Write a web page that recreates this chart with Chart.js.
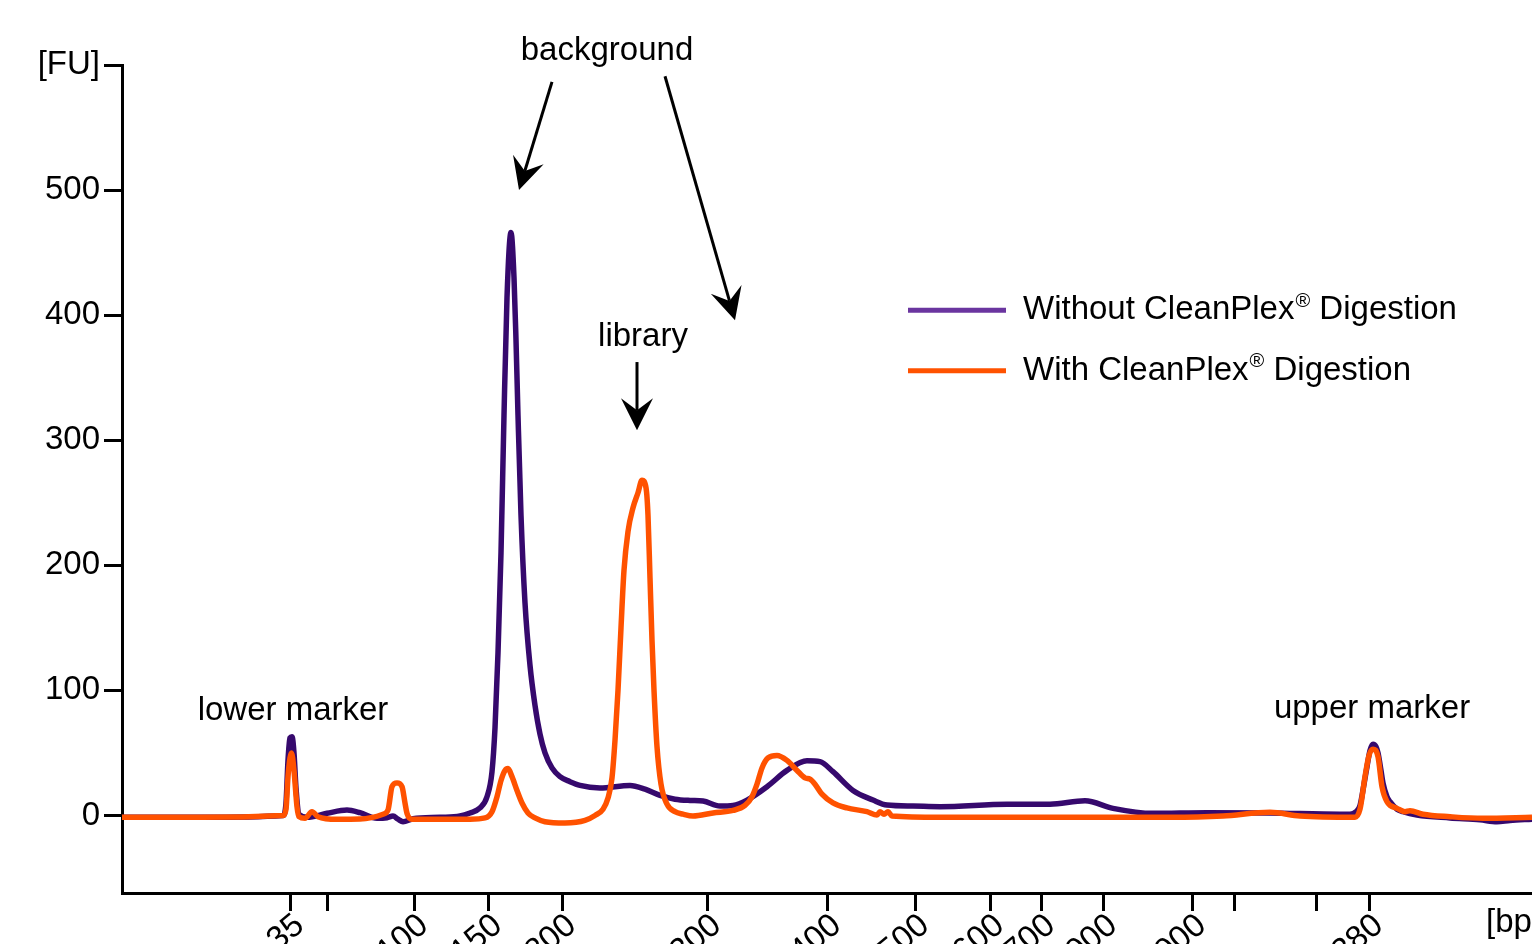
<!DOCTYPE html>
<html>
<head>
<meta charset="utf-8">
<script src="https://cdn.jsdelivr.net/npm/chart.js@4.4.1/dist/chart.umd.min.js"></script>
<style>
  body { margin: 0; background: #fff; overflow: hidden; }
  canvas { display: block; }
</style>
</head>
<body>
<canvas id="myChart" width="1532" height="944"></canvas>
<script>
// migration position (run units) and fluorescence [FU]
var withoutPos = [122, 200, 283, 286, 288, 290, 292, 294, 296, 299, 307, 327, 347, 360, 377, 387, 393, 398, 403, 413, 440, 460, 470, 480, 487, 492, 495, 498, 501, 504, 507, 511, 514, 516, 518, 521, 525, 530, 535, 540, 545, 552, 560, 570, 580, 600, 630, 645, 660, 675, 690, 703, 720, 733, 747, 767, 787, 807, 820, 833, 853, 873, 887, 913, 940, 1007, 1050, 1085, 1113, 1153, 1207, 1270, 1340, 1350, 1356, 1360, 1364, 1367, 1370, 1373, 1376, 1378, 1381, 1383, 1387, 1390, 1397, 1403, 1417, 1450, 1480, 1497, 1510, 1532];
var withoutFU = [-1.5, -1.5, 0, 10, 44, 62, 63, 50, 22, 1, -1.5, 1.7, 4.3, 2.2, -2.3, -1.8, -0.5, -3, -5, -2.6, -1.5, -0.5, 2, 6, 15, 35, 70, 130, 210, 320, 414, 466, 430, 380, 320, 240, 170, 120, 88, 65, 50, 38, 31, 27, 24, 22, 24, 21, 16, 13, 12, 11.5, 7.5, 8, 12.3, 23, 36, 43.7, 43, 35, 20, 12.3, 8.3, 7.5, 7, 8.9, 9, 11.7, 5.7, 1.7, 2.2, 2, 1, 1, 3, 8, 25, 39, 52, 57, 55, 50, 36, 26, 15, 11, 5, 3, 0.3, -2, -3.5, -5, -4, -3];

var withPos = [122, 200, 283, 286, 288, 290, 291.5, 294, 297, 299, 305, 312, 318, 337, 360, 383, 388, 392, 397, 402, 405, 407, 412, 470, 485, 492, 497, 501, 505, 508, 512, 517, 522, 528, 535, 545, 565, 585, 595, 603, 608, 612, 615, 618, 621, 624, 628, 633, 638, 642, 646, 648, 650, 652, 654, 657, 661, 667, 675, 683, 693, 713, 733, 745, 752, 757, 762, 768, 777, 787, 797, 805, 810, 815, 822, 833, 847, 867, 877, 880, 884, 888, 892, 940, 1170, 1223, 1270, 1300, 1355, 1360, 1365, 1369, 1373, 1378, 1382, 1387, 1397, 1405, 1410, 1423, 1450, 1483, 1532];
var withFU = [-1.5, -1.5, 0, 5, 31, 46, 50, 36, 7, -1, -2.3, 3, -1, -3.1, -2.9, 1, 4.3, 23, 26, 23, 10, 1.7, -3, -3, -2, 3, 15, 28, 36, 37.5, 31, 20, 10, 2, -2, -5, -6, -4, 0, 5, 14, 30, 60, 100, 150, 196, 227, 246, 258, 268, 262, 240, 190, 140, 100, 55, 25, 9, 3, 1, -0.5, 2, 4, 8, 15, 25, 38, 46, 48, 44, 36, 30, 29, 25, 17, 10, 6, 3, 0.3, 3, 1, 3, -0.5, -1.5, -1.5, -0.5, 2.5, -0.5, -1.5, 5, 31, 48, 53, 47, 23, 11, 5.7, 3, 3.8, 1, -1, -2.3, -1.5];

// ladder bands along the x axis
var ladderPos = [290, 327, 414, 488, 562, 707, 827, 915, 990, 1041, 1103, 1192, 1234, 1316, 1369];
var ladderLabels = ['35', '', '100', '150', '200', '300', '400', '500', '600', '700', '1000', '2000', '', '', '10380'];

var yTicks = [0, 100, 200, 300, 400, 500, 600];

var seriesNames = ['Without CleanPlex', 'With CleanPlex'];
var lineColors = ['#36096d', '#ff5200'];
var legendColors = ['#6a359f', '#ff5200'];

var FONT = '"Liberation Sans", Arial, sans-serif';

function toXY(xs, ys) {
    return xs.map(function (x, i) { return { x: x, y: ys[i] }; });
}

function drawArrow(ctx, x1, y1, x2, y2) {
    var dx = x2 - x1, dy = y2 - y1;
    var len = Math.sqrt(dx * dx + dy * dy);
    var ux = dx / len, uy = dy / len;
    var nx = -uy, ny = ux;
    var L = 32, W = 16, notch = 12;
    ctx.beginPath();
    ctx.moveTo(x1, y1);
    ctx.lineTo(x2 - ux * (L - notch), y2 - uy * (L - notch));
    ctx.lineWidth = 3;
    ctx.strokeStyle = '#000';
    ctx.stroke();
    ctx.beginPath();
    ctx.moveTo(x2, y2);
    ctx.lineTo(x2 - ux * L + nx * W, y2 - uy * L + ny * W);
    ctx.lineTo(x2 - ux * (L - notch), y2 - uy * (L - notch));
    ctx.lineTo(x2 - ux * L - nx * W, y2 - uy * L - ny * W);
    ctx.closePath();
    ctx.fillStyle = '#000';
    ctx.fill();
}

var notes = {
    id: 'notes',
    afterDraw: function (chart) {
        var ctx = chart.ctx;
        var xs = chart.scales.x, ys = chart.scales.y;
        var px = function (v) { return xs.getPixelForValue(v); };
        var py = function (v) { return ys.getPixelForValue(v); };
        ctx.save();
        ctx.fillStyle = '#000';
        ctx.textBaseline = 'alphabetic';

        // annotations
        ctx.font = '33px ' + FONT;
        ctx.textAlign = 'center';
        ctx.fillText('background', px(607), py(604));
        ctx.fillText('library', px(643), py(375));
        ctx.fillText('lower marker', px(293), py(76));
        ctx.fillText('upper marker', px(1372), py(78));
        drawArrow(ctx, px(552), py(586.5), px(519), py(500));
        drawArrow(ctx, px(665), py(591), px(735), py(396));
        drawArrow(ctx, px(637), py(362.5), px(637), py(308));

        // legend
        var legendY = [404, 355.5];
        for (var i = 0; i < seriesNames.length; i++) {
            var y = py(legendY[i]);
            ctx.beginPath();
            ctx.moveTo(px(908), y);
            ctx.lineTo(px(1006), y);
            ctx.lineWidth = 5;
            ctx.strokeStyle = legendColors[i];
            ctx.stroke();
            ctx.textAlign = 'left';
            ctx.textBaseline = 'middle';
            ctx.font = '33px ' + FONT;
            var tx = px(1023);
            ctx.fillText(seriesNames[i], tx, y);
            tx += ctx.measureText(seriesNames[i]).width;
            ctx.font = '20px ' + FONT;
            ctx.fillText('\u00AE', tx + 1, y - 9);
            tx += ctx.measureText('\u00AE').width + 1;
            ctx.font = '33px ' + FONT;
            ctx.fillText(' Digestion', tx, y);
        }

        // x axis unit
        ctx.textAlign = 'left';
        ctx.textBaseline = 'alphabetic';
        ctx.font = '33px ' + FONT;
        ctx.fillText('[bp]', 1486, 932);
        ctx.restore();
    }
};

var ctx = document.getElementById('myChart').getContext('2d');
var myChart = new Chart(ctx, {
    type: 'line',
    data: {
        datasets: [{
            label: seriesNames[0] + '\u00AE Digestion',
            data: toXY(withoutPos, withoutFU),
            borderColor: lineColors[0],
            borderWidth: 5.5,
            pointRadius: 0,
            cubicInterpolationMode: 'monotone',
            order: 1
        }, {
            label: seriesNames[1] + '\u00AE Digestion',
            data: toXY(withPos, withFU),
            borderColor: lineColors[1],
            borderWidth: 5.5,
            pointRadius: 0,
            cubicInterpolationMode: 'monotone',
            order: 0
        }]
    },
    options: {
        responsive: false,
        animation: false,
        devicePixelRatio: 1,
        layout: { padding: { top: 65, right: 0, bottom: 0, left: 0 } },
        plugins: {
            legend: { display: false },
            tooltip: { enabled: false }
        },
        scales: {
            x: {
                type: 'linear',
                min: 122,
                max: 1532,
                afterBuildTicks: function (s) {
                    s.ticks = ladderPos.map(function (v) { return { value: v }; });
                },
                afterFit: function (s) { s.height = 51; },
                ticks: {
                    autoSkip: false,
                    minRotation: 40,
                    maxRotation: 40,
                    padding: -5,
                    labelOffset: 10,
                    color: '#000',
                    font: { family: FONT, size: 33 },
                    callback: function (v) {
                        var i = ladderPos.indexOf(v);
                        return i >= 0 ? ladderLabels[i] : '';
                    }
                },
                grid: { drawOnChartArea: false, tickLength: 18, tickWidth: 3, tickColor: '#000' },
                border: { display: true, color: '#000', width: 3 }
            },
            y: {
                min: -62,
                max: 600,
                afterBuildTicks: function (s) {
                    s.ticks = yTicks.map(function (v) { return { value: v }; });
                },
                afterFit: function (s) { s.width = 122; },
                ticks: {
                    padding: 4,
                    color: '#000',
                    font: { family: FONT, size: 33 },
                    callback: function (v) { return v === 600 ? '[FU]' : v; }
                },
                grid: { drawOnChartArea: false, tickLength: 18, tickWidth: 3, tickColor: '#000' },
                border: { display: true, color: '#000', width: 3 }
            }
        }
    },
    plugins: [notes]
});
</script>
</body>
</html>
